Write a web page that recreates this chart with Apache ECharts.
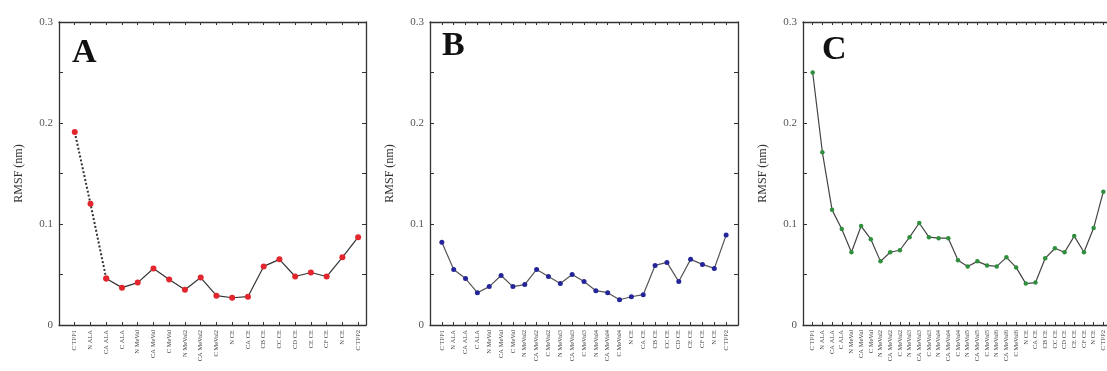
<!DOCTYPE html>
<html>
<head>
<meta charset="utf-8">
<script src="https://cdn.jsdelivr.net/npm/echarts@6/dist/echarts.min.js"></script>
<style>
	html, body { margin: 0; padding: 0; background: #fff; }
	#chart { width: 1107px; height: 371px; }
</style>
</head>
<body>
<div id="chart"></div>
<script>
// residues along each chain
const labelsA = ['C TPP1', 'N ALA', 'CA ALA', 'C ALA', 'N MeVal', 'CA MeVal', 'C MeVal', 'N MeVal2', 'CA MeVal2', 'C MeVal2',
	'N CE', 'CA CE', 'CB CE', 'CC CE', 'CD CE', 'CE CE', 'CF CE', 'N CE', 'C TPP2']
const labelsB = ['C TPP1', 'N ALA', 'CA ALA', 'C ALA', 'N MeVal', 'CA MeVal', 'C MeVal', 'N MeVal2', 'CA MeVal2', 'C MeVal2',
	'N MeVal3', 'CA MeVal3', 'C MeVal3', 'N MeVal4', 'CA MeVal4', 'C MeVal4',
	'N CE', 'CA CE', 'CB CE', 'CC CE', 'CD CE', 'CE CE', 'CF CE', 'N CE', 'C TPP2']
const labelsC = ['C TPP1', 'N ALA', 'CA ALA', 'C ALA', 'N MeVal', 'CA MeVal', 'C MeVal', 'N MeVal2', 'CA MeVal2', 'C MeVal2',
	'N MeVal3', 'CA MeVal3', 'C MeVal3', 'N MeVal4', 'CA MeVal4', 'C MeVal4', 'N MeVal5', 'CA MeVal5', 'C MeVal5',
	'N MeVal6', 'CA MeVal6', 'C MeVal6',
	'N CE', 'CA CE', 'CB CE', 'CC CE', 'CD CE', 'CE CE', 'CF CE', 'N CE', 'C TPP2']

// RMSF (nm)
const rmsfA = [0.191, 0.120, 0.046, 0.037, 0.042, 0.056, 0.045, 0.035, 0.047, 0.029,
	0.027, 0.028, 0.058, 0.065, 0.048, 0.052, 0.048, 0.067, 0.087]
const rmsfB = [0.082, 0.055, 0.046, 0.032, 0.038, 0.049, 0.038, 0.040, 0.055, 0.048,
	0.041, 0.050, 0.043, 0.034, 0.032, 0.025, 0.028, 0.030, 0.059, 0.062,
	0.043, 0.065, 0.060, 0.056, 0.089]
const rmsfC = [0.250, 0.171, 0.114, 0.095, 0.072, 0.098, 0.085, 0.063, 0.072, 0.074,
	0.087, 0.101, 0.087, 0.086, 0.086, 0.064, 0.058, 0.063, 0.059, 0.058,
	0.067, 0.057, 0.041, 0.042, 0.066, 0.076, 0.072, 0.088, 0.072, 0.096, 0.132]

const yTicks = [0, 0.1, 0.2, 0.3]
const panelNames = ['A', 'B', 'C']

const serif = '"Liberation Serif", "DejaVu Serif", serif'
const frameColor = '#333'

const panels = [
	{ labels: labelsA, values: rmsfA, left: 59, width: 307, max: 18.5, color: '#e3262d', line: '#333', size: 6 },
	{ labels: labelsB, values: rmsfB, left: 430, width: 308, max: 25, color: '#25259a', line: '#555', size: 5 },
	{ labels: labelsC, values: rmsfC, left: 803, width: 310, max: 31, color: '#2f8f3c', line: '#444', size: 4.5 }
]

const toPoints = arr => arr.map((v, i) => [i, v])

const grid = []
const xAxis = []
const yAxis = []
const series = []

panels.forEach((p, i) => {
	grid.push({ left: p.left, top: 22, width: p.width, height: 303, outerBoundsMode: 'none' })

	const xBase = {
		gridIndex: i,
		type: 'value',
		min: -1,
		max: p.max,
		interval: 1,
		splitLine: { show: false },
		axisLine: { show: true, onZero: false, lineStyle: { color: frameColor, width: 1.3 } },
		axisTick: { show: true, inside: true, length: 3, lineStyle: { color: frameColor } }
	}
	xAxis.push(Object.assign({}, xBase, {
		position: 'bottom',
		axisLabel: {
			rotate: 90,
			fontSize: 6.5,
			fontFamily: serif,
			color: '#444',
			margin: 5,
			showMinLabel: true,
			showMaxLabel: true,
			formatter: v => (Number.isInteger(v) && p.labels[v]) ? p.labels[v] : ''
		}
	}))
	xAxis.push(Object.assign({}, xBase, { position: 'top', axisLabel: { show: false } }))

	const yBase = {
		gridIndex: i,
		type: 'value',
		min: 0,
		max: 0.3,
		interval: 0.05,
		splitLine: { show: false },
		axisLine: { show: true, onZero: false, lineStyle: { color: frameColor, width: 1.3 } },
		axisTick: { show: true, inside: true, length: 4, lineStyle: { color: frameColor } }
	}
	yAxis.push(Object.assign({}, yBase, {
		position: 'left',
		name: 'RMSF (nm)',
		nameLocation: 'middle',
		nameGap: 34,
		nameTextStyle: { fontFamily: serif, fontSize: 12, color: '#333' },
		axisLabel: {
			fontFamily: serif,
			fontSize: 11,
			color: '#555',
			margin: 6,
			formatter: v => {
				const t = yTicks.find(k => Math.abs(k - v) < 1e-6)
				return t === undefined ? '' : String(t)
			}
		}
	}))
	yAxis.push(Object.assign({}, yBase, { position: 'right', axisLabel: { show: false } }))

	const common = {
		type: 'line',
		xAxisIndex: i * 2,
		yAxisIndex: i * 2,
		symbol: 'circle',
		symbolSize: p.size,
		itemStyle: { color: p.color },
		animation: false,
		z: 3
	}
	if (i === 0) {
		// first stretch of chain A is drawn dotted
		series.push(Object.assign({}, common, {
			data: toPoints(p.values).slice(0, 3),
			lineStyle: { color: p.line, width: 2, type: [2, 2] }
		}))
		series.push(Object.assign({}, common, {
			data: toPoints(p.values).slice(2),
			lineStyle: { color: p.line, width: 1.2 }
		}))
	} else {
		series.push(Object.assign({}, common, {
			data: toPoints(p.values),
			lineStyle: { color: p.line, width: 1.2 }
		}))
	}
})

const letterPos = [[72, 53], [442, 46], [822, 50]]
const graphic = panelNames.map((n, i) => ({
	type: 'text',
	left: letterPos[i][0],
	top: letterPos[i][1] - 17,
	style: {
		text: n,
		font: 'bold 34px ' + serif,
		fill: '#111'
	}
}))

const chart = echarts.init(document.getElementById('chart'), null, { renderer: 'canvas' })
chart.setOption({
	backgroundColor: '#fff',
	animation: false,
	grid: grid,
	xAxis: xAxis,
	yAxis: yAxis,
	series: series,
	graphic: graphic
})
</script>
</body>
</html>
